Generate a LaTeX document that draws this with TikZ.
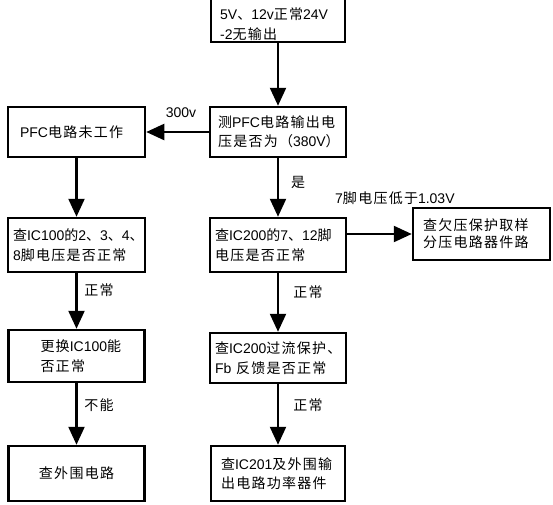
\documentclass[tikz,border=0pt]{standalone}
\usepackage{fontspec}
\setmainfont{Liberation Sans}
\newfontfamily\cjk{Noto Sans CJK SC}[LetterSpace=9]
\newfontfamily\latfont{Liberation Sans}
\newcommand{\lat}[1]{{\latfont #1}}
\usetikzlibrary{arrows.meta}
\usetikzlibrary{calc}

\tikzset{
    box/.style={draw, line width=2.5pt, inner ysep=0pt, align=left, font=\cjk\fontsize{14}{19.5}\selectfont},
    txt/.style={inner sep=0pt, align=left, font=\cjk\fontsize{14}{19.5}\selectfont},
    arrow/.style={line width=2.3pt, -{Triangle[length=18pt,width=16pt]}}
}

\begin{document}
\begin{tikzpicture}[x=1pt, y=-1pt]
    \useasboundingbox (0,0) rectangle (553,504);

    % Constants
    \pgfmathsetmacro{\xl}{76.5}
    \pgfmathsetmacro{\xm}{278}

    % Top box (cut at the upper edge)
    \node [box, minimum width=134pt, minimum height=80pt] (top) at (\xm,2) {};
    \node [txt, anchor=west] (toptext) at (220,24) {\lat{5V}、\lat{12v}正常\lat{24V}\\\lat{-2}无输出};

    % Middle column
    \node [box, minimum width=136pt, minimum height=50pt, text width=120pt, inner xsep=8pt] (measure) at (\xm,132) {测\lat{PFC}电路输出电\\压是否为（\lat{380V}）};
    \node [box, minimum width=136pt, minimum height=54pt, text width=126pt, inner xsep=5pt] (ic200) at (\xm,245) {查\lat{IC200}的\lat{7}、\lat{12}脚\\电压是否正常};
    \node [box, minimum width=136pt, minimum height=50pt, text width=126pt, inner xsep=5pt] (ocp) at (\xm,358) {查\lat{IC200}过流保护、\\\lat{Fb} 反馈是否正常};
    \node [box, minimum width=134pt, minimum height=55pt, text width=114pt, inner xsep=10pt] (out) at (\xm,473.5) {查\lat{IC201}及外围输\\出电路功率器件};

    % Left column
    \node [box, minimum width=137pt, minimum height=50pt, text width=113pt, inner xsep=12pt] (pfc) at (\xl,132) {\lat{PFC}电路未工作};
    \node [box, minimum width=137pt, minimum height=54pt, text width=127pt, inner xsep=5pt] (ic100) at (\xl,245) {查\lat{IC100}的\lat{2}、\lat{3}、\lat{4}、\\\lat{8}脚电压是否正常};
    \node [box, minimum width=136pt, minimum height=52pt, text width=72pt, inner xsep=32pt] (repl) at (\xl,356) {更换\lat{IC100}能\\否正常};
    \node [box, minimum width=136pt, minimum height=55pt, align=center] (peri) at (\xl,473.5) {查外围电路};

    % Right box
    \node [box, minimum width=137pt, minimum height=52pt, text width=117pt, inner xsep=10pt, font=\cjk\fontsize{14}{17}\selectfont] (uv) at (481.5,234) {查欠压保护取样\\分压电路器件路};

    % Arrows
    \draw [arrow] (top.south) -- (measure.north);
    \draw [arrow] (measure.west) -- (pfc.east);
    \draw [arrow] (pfc.south) -- (ic100.north);
    \draw [arrow] (measure.south) -- (ic200.north);
    \draw [arrow] (ic200.east |- uv.west) -- (uv.west);
    \draw [arrow] (ic100.south) -- (repl.north);
    \draw [arrow] (ic200.south) -- (ocp.north);
    \draw [arrow] (repl.south) -- (peri.north);
    \draw [arrow] (ocp.south) -- (out.north);

    % Labels
    \node [txt] (l300) at (181,113) {\lat{300v}};
    \node [txt] (lyes) at (298,182) {是};
    \node [txt, anchor=west] (lpin) at (335,198) {\lat{7}脚电压低于\lat{1.03V}};
    \node [txt] (lok1) at (99,290) {正常};
    \node [txt] (lno) at (99,405) {不能};
    \node [txt] (lok2) at (308,292) {正常};
    \node [txt] (lok3) at (308,405) {正常};

\end{tikzpicture}
\end{document}
